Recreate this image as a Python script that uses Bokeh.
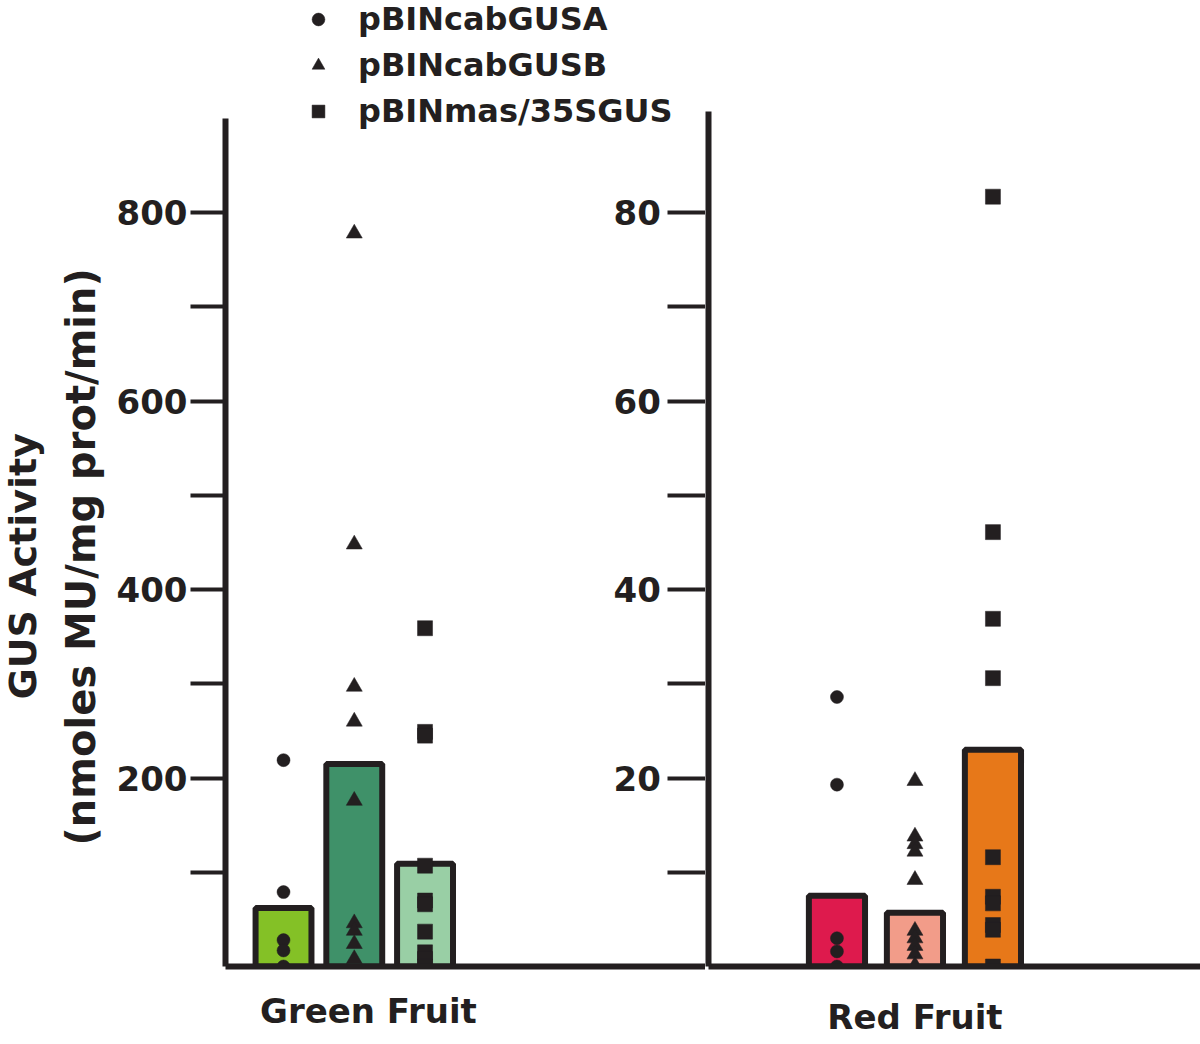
from bokeh.plotting import figure
from bokeh.models import Range1d, LinearAxis, FixedTicker, Legend, LegendItem, ColumnDataSource, Title
from bokeh.layouts import row
from bokeh.embed import file_html
from bokeh.resources import INLINE

# ---------------- data ----------------
series = ["pBINcabGUSA", "pBINcabGUSB", "pBINmas/35SGUS"]
markers = ["circle", "triangle", "square"]
groups = ["Green Fruit", "Red Fruit"]

green_bar = [62, 215, 109]
red_bar = [7.5, 5.7, 23.0]

green_A = [219, 79, 28, 17, 0]
green_B = [778, 448, 297, 260, 176, 46, 38, 24, 8]
green_C = [359, 249, 245, 107, 70, 66, 37, 15, 8, 0]

red_A = [28.6, 19.3, 3.0, 1.6, 0]
red_B = [19.7, 13.8, 13.0, 12.2, 9.2, 3.8, 3.0, 2.2, 1.3, 0.1]
red_C = [81.7, 46.1, 36.9, 30.6, 11.6, 7.4, 6.7, 4.4, 3.9, 0]

green_ticks = [100, 200, 300, 400, 500, 600, 700, 800]
green_tick_labels = ["", "200", "", "400", "", "600", "", "800"]
red_ticks = [10, 20, 30, 40, 50, 60, 70, 80]
red_tick_labels = ["", "20", "", "40", "", "60", "", "80"]

green_colors = ["#84C126", "#3F9169", "#99CFA5"]
red_colors = ["#DE1A4D", "#F29C89", "#E77819"]

ylabel_1 = "GUS Activity"
ylabel_2 = "(nmoles MU/mg prot/min)"

# ---------------- style ----------------
INK = "#231F20"
FONT = "DejaVu Sans"
W1, W2, H = 705, 495, 1040
BOTTOM = 74
GREEN_TOP, RED_TOP = 1025.2, 102.52   # view extends above the axes so the legend fits
GREEN_AXIS_MAX, RED_AXIS_MAX = 900, 90
GREEN_LABEL_POS, RED_LABEL_POS = 2.2, 2.0


def style_common(p):
    p.outline_line_color = None
    p.xgrid.grid_line_color = None
    p.ygrid.grid_line_color = None
    p.background_fill_color = "white"
    p.border_fill_color = "white"


def style_xaxis(ax, label, pos, standoff):
    ax.ticker = FixedTicker(ticks=[pos])
    ax.major_label_overrides = {pos: label}
    ax.axis_line_color = INK
    ax.axis_line_width = 6
    ax.major_tick_in = 0
    ax.major_tick_out = 0
    ax.minor_tick_line_color = None
    ax.major_label_text_font = FONT
    ax.major_label_text_font_style = "bold"
    ax.major_label_text_font_size = "34px"
    ax.major_label_text_color = INK
    ax.major_label_standoff = standoff


def draw_panel(p, bars, colors, pts, bar_width):
    xs = [i + 1 for i in range(len(bars))]
    p.vbar(x=xs, top=bars, bottom=0, width=bar_width, fill_color=colors,
           line_color=INK, line_width=6)
    rends = []
    for i, vals in enumerate(pts):
        src = ColumnDataSource(dict(x=[i + 1] * len(vals), y=vals))
        size = 13 if markers[i] == "circle" else 16 if markers[i] == "triangle" else 15
        r = p.scatter("x", "y", source=src, marker=markers[i], size=size,
                      fill_color=INK, line_color=INK, line_width=0.5)
        rends.append(r)
    return rends


# ---------------- left panel: green fruit ----------------
p1 = figure(width=W1, height=H, x_range=Range1d(0.18, 6.964), y_range=Range1d(0, GREEN_TOP),
            output_backend="svg", toolbar_location=None,
            min_border_left=225, min_border_right=0, min_border_top=0, min_border_bottom=BOTTOM)
style_common(p1)
style_xaxis(p1.xaxis[0], groups[0], GREEN_LABEL_POS, 24)

ya = p1.yaxis[0]
ya.bounds = (0, GREEN_AXIS_MAX)
ya.ticker = FixedTicker(ticks=green_ticks)
ya.major_label_overrides = {t: l for t, l in zip(green_ticks, green_tick_labels)}
ya.axis_line_color = INK
ya.axis_line_width = 6
ya.major_tick_line_color = INK
ya.major_tick_line_width = 4
ya.major_tick_in = 0
ya.major_tick_out = 35
ya.minor_tick_line_color = None
ya.major_label_text_font = FONT
ya.major_label_text_font_style = "bold"
ya.major_label_text_font_size = "34px"
ya.major_label_text_color = INK
ya.major_label_standoff = 3

t2 = Title(text=ylabel_2, align="left", offset=121, standoff=19,
           text_font=FONT, text_font_style="bold", text_font_size="40px", text_color=INK)
t1 = Title(text=ylabel_1, align="left", offset=267, standoff=0, vertical_align="top",
           text_font=FONT, text_font_style="bold", text_font_size="38px", text_color=INK)
p1.add_layout(t2, "left")
p1.add_layout(t1, "left")

# scale of the red-fruit panel, drawn at the boundary between the panels
red_range = Range1d(0, RED_TOP)
p1.extra_y_ranges = {"red": red_range}
yr = LinearAxis(y_range_name="red", ticker=FixedTicker(ticks=red_ticks), bounds=(0, RED_AXIS_MAX),
                major_label_overrides={t: l for t, l in zip(red_ticks, red_tick_labels)},
                axis_line_color=None, major_tick_line_color=INK, major_tick_line_width=4,
                major_tick_in=38, major_tick_out=0, minor_tick_line_color=None,
                major_label_text_font=FONT, major_label_text_font_style="bold",
                major_label_text_font_size="34px", major_label_text_color=INK,
                major_label_standoff=-92)
p1.add_layout(yr, "right")

g_rends = draw_panel(p1, green_bar, green_colors, [green_A, green_B, green_C], 0.79)

legend = Legend(items=[LegendItem(label=series[i], renderers=[g_rends[i]]) for i in range(3)],
                location=(77, 836), orientation="vertical",
                glyph_width=32, glyph_height=32, label_height=32, spacing=8,
                label_standoff=24, padding=0, margin=0,
                background_fill_alpha=0, border_line_color=None,
                label_text_font=FONT, label_text_font_style="bold",
                label_text_font_size="32px", label_text_color=INK)
p1.add_layout(legend, "center")

# ---------------- right panel: red fruit ----------------
p2 = figure(width=W2, height=H, x_range=Range1d(-0.647, 5.661), y_range=red_range,
            output_backend="svg", toolbar_location=None,
            min_border_left=3, min_border_right=0, min_border_top=0, min_border_bottom=BOTTOM)
style_common(p2)
style_xaxis(p2.xaxis[0], groups[1], RED_LABEL_POS, 30)

yb = p2.yaxis[0]
yb.bounds = (0, RED_AXIS_MAX + 0.7)
yb.ticker = FixedTicker(ticks=[])
yb.axis_line_color = INK
yb.axis_line_width = 6
yb.major_tick_in = 0
yb.major_tick_out = 0
yb.minor_tick_line_color = None
yb.major_label_text_font_size = "0px"
yb.major_label_standoff = 0

draw_panel(p2, red_bar, red_colors, [red_A, red_B, red_C], 0.72)

layout = row(p1, p2, spacing=0)
open("out.html", "w").write(file_html(layout, INLINE))
